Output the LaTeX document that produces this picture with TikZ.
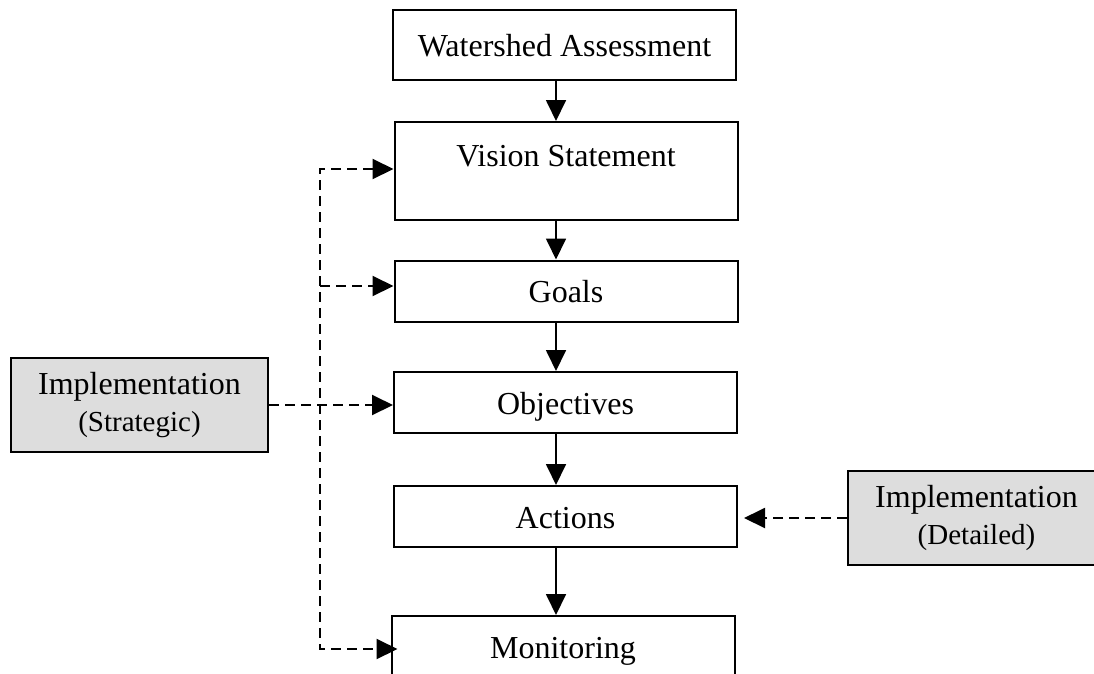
\documentclass[tikz,border=0pt]{standalone}
\usepackage{fontspec}
\setmainfont{Liberation Serif}
\usetikzlibrary{arrows.meta}

\definecolor{implgray}{RGB}{221,221,221}

\begin{document}
\begin{tikzpicture}[%
  >={Triangle[length=21pt,width=20pt]},
  x=1pt, y=-1pt,
  frame/.style={draw, line width=2pt, inner sep=0pt},
  box/.style={frame, minimum width=343pt, minimum height=61pt,
    text height=26pt, text depth=3pt, font=\fontsize{32}{36}\selectfont},
  impl/.style={frame, fill=implgray, minimum width=257pt, minimum height=94pt,
    align=center, font=\fontsize{32}{37}\selectfont},
  link/.style={line width=2pt, dash pattern=on 10pt off 6pt},
  flow/.style={line width=1.8pt}
]

  \useasboundingbox (0,0) rectangle (1094,673);
  \clip (0,0) rectangle (1094,673);

  % main chain
  \node[box, minimum height=70pt] (ws) at (564.5,45) {Watershed Assessment};
  \node[box, minimum height=98pt, text height=44pt, text depth=54pt] (vs) at (566,171) {Vision Statement};
  \node[box] (gl) at (566,291) {Goals};
  \node[box] (ob) at (565.5,402.5) {Objectives};
  \node[box] (ac) at (565.5,516.5) {Actions};
  \node[box] (mo) at (563,646.5) {Monitoring};

  % implementation
  \node[impl] (st) at (139.5,405) {Implementation\\{\fontsize{29}{37}\selectfont(Strategic)}};
  \node[impl] (de) at (976.5,518) {Implementation\\{\fontsize{29}{37}\selectfont(Detailed)}};

  \coordinate (spine) at (556,0);
  \coordinate (vtop) at (320,169);
  \coordinate (vbot) at (320,649);
  \coordinate (gin) at ([yshift=5pt]gl.west);

  \foreach \a/\b in {ws/vs, vs/gl, gl/ob, ob/ac, ac/mo}
    \draw[flow, ->] (\a.south -| spine) -- (\b.north -| spine);

  \draw[link, <->] (vs.west |- vtop) -- (vtop) -- (vbot) -- ([xshift=7pt]mo.west |- vbot);
  \draw[link, ->] (vtop |- gin) -- (gin);
  \draw[link, ->] (st.east) -- (st.east -| ob.west);
  \draw[link, ->] (de.west) -- ([xshift=6pt]de.west -| ac.east);

\end{tikzpicture}
\end{document}
